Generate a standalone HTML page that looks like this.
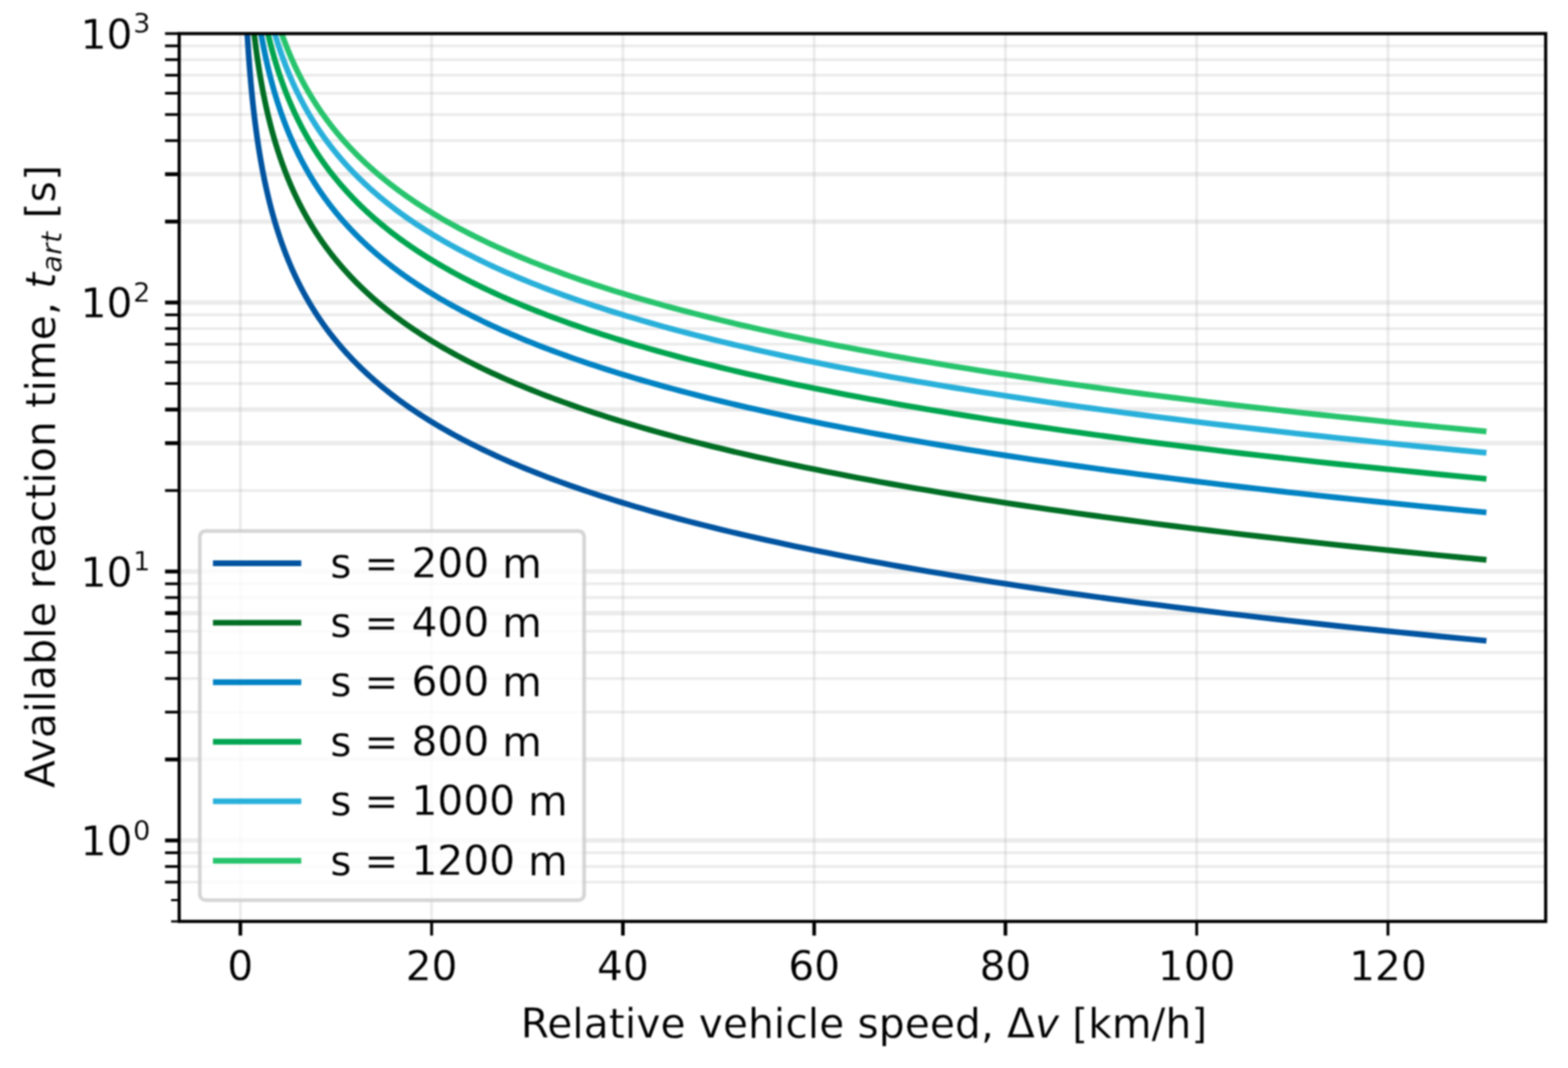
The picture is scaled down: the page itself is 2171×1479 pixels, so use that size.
<!DOCTYPE html>
<html lang="en"><head><meta charset="utf-8"><title>Available reaction time vs. relative vehicle speed</title>
<style>
html,body{margin:0;padding:0;background:#fff;}
body{width:2171px;height:1479px;overflow:hidden;}
svg{display:block;filter:blur(0.85px);}
text{font-family:"DejaVu Sans","Liberation Sans",sans-serif;fill:#000;stroke:#fff;stroke-width:0.3px;stroke-linejoin:round;}
.it{font-style:italic;}
</style></head><body>
<svg width="2171" height="1479" viewBox="0 0 2171 1479">
<rect x="0" y="0" width="2171" height="1479" fill="#fff"/>
<defs><clipPath id="ax"><rect x="248.10" y="46.50" width="1892.00" height="1229.50"/></clipPath></defs>
<g id="grid" clip-path="url(#ax)" stroke="#b0b0b0" stroke-opacity="0.25" stroke-width="3.8" fill="none">
<line x1="332.80" y1="46.50" x2="332.80" y2="1276.00"/>
<line x1="597.62" y1="46.50" x2="597.62" y2="1276.00"/>
<line x1="862.44" y1="46.50" x2="862.44" y2="1276.00"/>
<line x1="1127.26" y1="46.50" x2="1127.26" y2="1276.00"/>
<line x1="1392.08" y1="46.50" x2="1392.08" y2="1276.00"/>
<line x1="1656.90" y1="46.50" x2="1656.90" y2="1276.00"/>
<line x1="1921.72" y1="46.50" x2="1921.72" y2="1276.00"/>
<line x1="248.10" y1="1221.57" x2="2140.10" y2="1221.57"/>
<line x1="248.10" y1="1199.97" x2="2140.10" y2="1199.97"/>
<line x1="248.10" y1="1180.92" x2="2140.10" y2="1180.92"/>
<line x1="248.10" y1="1163.88" x2="2140.10" y2="1163.88" stroke-width="6.2"/>
<line x1="248.10" y1="1051.76" x2="2140.10" y2="1051.76" stroke-width="6.2"/>
<line x1="248.10" y1="986.17" x2="2140.10" y2="986.17"/>
<line x1="248.10" y1="939.64" x2="2140.10" y2="939.64"/>
<line x1="248.10" y1="903.54" x2="2140.10" y2="903.54"/>
<line x1="248.10" y1="874.05" x2="2140.10" y2="874.05"/>
<line x1="248.10" y1="849.11" x2="2140.10" y2="849.11" stroke-width="6.2"/>
<line x1="248.10" y1="827.51" x2="2140.10" y2="827.51"/>
<line x1="248.10" y1="808.46" x2="2140.10" y2="808.46"/>
<line x1="248.10" y1="791.42" x2="2140.10" y2="791.42" stroke-width="6.2"/>
<line x1="248.10" y1="679.30" x2="2140.10" y2="679.30"/>
<line x1="248.10" y1="613.71" x2="2140.10" y2="613.71" stroke-width="6.2"/>
<line x1="248.10" y1="567.18" x2="2140.10" y2="567.18" stroke-width="6.2"/>
<line x1="248.10" y1="531.08" x2="2140.10" y2="531.08"/>
<line x1="248.10" y1="501.59" x2="2140.10" y2="501.59"/>
<line x1="248.10" y1="476.65" x2="2140.10" y2="476.65"/>
<line x1="248.10" y1="455.05" x2="2140.10" y2="455.05"/>
<line x1="248.10" y1="436.00" x2="2140.10" y2="436.00"/>
<line x1="248.10" y1="418.96" x2="2140.10" y2="418.96" stroke-width="6.2"/>
<line x1="248.10" y1="306.84" x2="2140.10" y2="306.84" stroke-width="6.2"/>
<line x1="248.10" y1="241.25" x2="2140.10" y2="241.25" stroke-width="6.2"/>
<line x1="248.10" y1="194.72" x2="2140.10" y2="194.72"/>
<line x1="248.10" y1="158.62" x2="2140.10" y2="158.62"/>
<line x1="248.10" y1="129.13" x2="2140.10" y2="129.13"/>
<line x1="248.10" y1="104.19" x2="2140.10" y2="104.19"/>
<line x1="248.10" y1="82.60" x2="2140.10" y2="82.60"/>
<line x1="248.10" y1="63.54" x2="2140.10" y2="63.54"/>
<line x1="248.10" y1="46.50" x2="2140.10" y2="46.50"/>
</g>
<g id="curves" clip-path="url(#ax)" fill="none" stroke-width="7.9" stroke-linecap="square" stroke-linejoin="round">
<path d="M334.12 -272.82 L334.15 -269.92 L334.17 -267.02 L334.20 -264.12 L334.22 -261.22 L334.25 -258.32 L334.27 -255.42 L334.30 -252.52 L334.33 -249.63 L334.36 -246.73 L334.38 -243.83 L334.41 -240.93 L334.44 -238.03 L334.47 -235.13 L334.50 -232.23 L334.53 -229.33 L334.56 -226.43 L334.60 -223.53 L334.63 -220.63 L334.66 -217.73 L334.70 -214.83 L334.73 -211.93 L334.76 -209.03 L334.80 -206.13 L334.84 -203.23 L334.87 -200.33 L334.91 -197.43 L334.95 -194.53 L334.99 -191.63 L335.03 -188.73 L335.07 -185.84 L335.11 -182.94 L335.15 -180.04 L335.19 -177.14 L335.24 -174.24 L335.28 -171.34 L335.32 -168.44 L335.37 -165.54 L335.42 -162.64 L335.46 -159.74 L335.51 -156.84 L335.56 -153.94 L335.61 -151.04 L335.66 -148.14 L335.71 -145.24 L335.77 -142.34 L335.82 -139.44 L335.87 -136.54 L335.93 -133.64 L335.99 -130.74 L336.04 -127.84 L336.10 -124.94 L336.16 -122.05 L336.22 -119.15 L336.29 -116.25 L336.35 -113.35 L336.41 -110.45 L336.48 -107.55 L336.54 -104.65 L336.61 -101.75 L336.68 -98.85 L336.75 -95.95 L336.82 -93.05 L336.90 -90.15 L336.97 -87.25 L337.05 -84.35 L337.12 -81.45 L337.20 -78.55 L337.28 -75.65 L337.36 -72.75 L337.44 -69.85 L337.53 -66.95 L337.61 -64.05 L337.70 -61.15 L337.79 -58.26 L337.88 -55.36 L337.97 -52.46 L338.06 -49.56 L338.16 -46.66 L338.26 -43.76 L338.36 -40.86 L338.46 -37.96 L338.56 -35.06 L338.66 -32.16 L338.77 -29.26 L338.88 -26.36 L338.99 -23.46 L339.10 -20.56 L339.21 -17.66 L339.33 -14.76 L339.45 -11.86 L339.57 -8.96 L339.69 -6.06 L339.81 -3.16 L339.94 -0.26 L340.07 2.64 L340.20 5.53 L340.33 8.43 L340.47 11.33 L340.61 14.23 L340.75 17.13 L340.89 20.03 L341.04 22.93 L341.19 25.83 L341.34 28.73 L341.50 31.63 L341.65 34.53 L341.81 37.43 L341.98 40.33 L342.14 43.23 L342.31 46.13 L342.48 49.03 L342.66 51.93 L342.84 54.83 L343.02 57.73 L343.20 60.63 L343.39 63.53 L343.58 66.43 L343.78 69.32 L343.98 72.22 L344.18 75.12 L344.38 78.02 L344.59 80.92 L344.81 83.82 L345.02 86.72 L345.25 89.62 L345.47 92.52 L345.70 95.42 L345.93 98.32 L346.17 101.22 L346.41 104.12 L346.66 107.02 L346.91 109.92 L347.17 112.82 L347.42 115.72 L347.69 118.62 L347.96 121.52 L348.23 124.42 L348.51 127.32 L348.80 130.22 L349.09 133.11 L349.38 136.01 L349.68 138.91 L349.99 141.81 L350.30 144.71 L350.61 147.61 L350.93 150.51 L351.26 153.41 L351.60 156.31 L351.94 159.21 L352.28 162.11 L352.64 165.01 L352.99 167.91 L353.36 170.81 L353.73 173.71 L354.11 176.61 L354.49 179.51 L354.89 182.41 L355.29 185.31 L355.69 188.21 L356.11 191.11 L356.53 194.01 L356.96 196.90 L357.40 199.80 L357.84 202.70 L358.29 205.60 L358.75 208.50 L359.22 211.40 L359.70 214.30 L360.19 217.20 L360.68 220.10 L361.19 223.00 L361.70 225.90 L362.22 228.80 L362.76 231.70 L363.30 234.60 L363.85 237.50 L364.41 240.40 L364.98 243.30 L365.57 246.20 L366.16 249.10 L366.76 252.00 L367.38 254.90 L368.00 257.80 L368.64 260.69 L369.29 263.59 L369.95 266.49 L370.62 269.39 L371.30 272.29 L372.00 275.19 L372.71 278.09 L373.43 280.99 L374.16 283.89 L374.91 286.79 L375.67 289.69 L376.45 292.59 L377.24 295.49 L378.04 298.39 L378.86 301.29 L379.69 304.19 L380.54 307.09 L381.40 309.99 L382.28 312.89 L383.18 315.79 L384.09 318.69 L385.02 321.58 L385.96 324.48 L386.92 327.38 L387.90 330.28 L388.90 333.18 L389.91 336.08 L390.95 338.98 L392.00 341.88 L393.07 344.78 L394.16 347.68 L395.27 350.58 L396.40 353.48 L397.55 356.38 L398.72 359.28 L399.91 362.18 L401.13 365.08 L402.36 367.98 L403.62 370.88 L404.90 373.78 L406.21 376.68 L407.53 379.58 L408.88 382.48 L410.26 385.37 L411.66 388.27 L413.09 391.17 L414.54 394.07 L416.02 396.97 L417.52 399.87 L419.06 402.77 L420.62 405.67 L422.21 408.57 L423.82 411.47 L425.47 414.37 L427.14 417.27 L428.85 420.17 L430.59 423.07 L432.36 425.97 L434.16 428.87 L435.99 431.77 L437.86 434.67 L439.76 437.57 L441.69 440.47 L443.66 443.37 L445.67 446.27 L447.71 449.16 L449.79 452.06 L451.90 454.96 L454.06 457.86 L456.25 460.76 L458.48 463.66 L460.76 466.56 L463.07 469.46 L465.43 472.36 L467.83 475.26 L470.27 478.16 L472.75 481.06 L475.28 483.96 L477.86 486.86 L480.49 489.76 L483.16 492.66 L485.88 495.56 L488.65 498.46 L491.46 501.36 L494.33 504.26 L497.26 507.16 L500.23 510.06 L503.26 512.95 L506.34 515.85 L509.48 518.75 L512.68 521.65 L515.93 524.55 L519.24 527.45 L522.61 530.35 L526.05 533.25 L529.54 536.15 L533.10 539.05 L536.72 541.95 L540.41 544.85 L544.17 547.75 L547.99 550.65 L551.88 553.55 L555.84 556.45 L559.88 559.35 L563.99 562.25 L568.17 565.15 L572.42 568.05 L576.76 570.95 L581.17 573.85 L585.66 576.74 L590.24 579.64 L594.89 582.54 L599.63 585.44 L604.46 588.34 L609.37 591.24 L614.37 594.14 L619.47 597.04 L624.65 599.94 L629.93 602.84 L635.31 605.74 L640.78 608.64 L646.35 611.54 L652.02 614.44 L657.79 617.34 L663.67 620.24 L669.65 623.14 L675.75 626.04 L681.95 628.94 L688.26 631.84 L694.69 634.74 L701.24 637.64 L707.90 640.53 L714.69 643.43 L721.60 646.33 L728.63 649.23 L735.79 652.13 L743.08 655.03 L750.50 657.93 L758.05 660.83 L765.74 663.73 L773.57 666.63 L781.55 669.53 L789.66 672.43 L797.92 675.33 L806.34 678.23 L814.90 681.13 L823.62 684.03 L832.50 686.93 L841.54 689.83 L850.74 692.73 L860.11 695.63 L869.64 698.53 L879.35 701.43 L889.24 704.32 L899.30 707.22 L909.55 710.12 L919.98 713.02 L930.60 715.92 L941.41 718.82 L952.42 721.72 L963.63 724.62 L975.04 727.52 L986.66 730.42 L998.48 733.32 L1010.52 736.22 L1022.78 739.12 L1035.26 742.02 L1047.96 744.92 L1060.90 747.82 L1074.07 750.72 L1087.48 753.62 L1101.13 756.52 L1115.02 759.42 L1129.17 762.32 L1143.57 765.22 L1158.24 768.11 L1173.17 771.01 L1188.37 773.91 L1203.84 776.81 L1219.60 779.71 L1235.64 782.61 L1251.97 785.51 L1268.59 788.41 L1285.52 791.31 L1302.75 794.21 L1320.29 797.11 L1338.15 800.01 L1356.34 802.91 L1374.85 805.81 L1393.70 808.71 L1412.88 811.61 L1432.42 814.51 L1452.31 817.41 L1472.56 820.31 L1493.17 823.21 L1514.16 826.11 L1535.53 829.01 L1557.28 831.90 L1579.43 834.80 L1601.98 837.70 L1624.93 840.60 L1648.30 843.50 L1672.09 846.40 L1696.32 849.30 L1720.98 852.20 L1746.09 855.10 L1771.65 858.00 L1797.67 860.90 L1824.17 863.80 L1851.14 866.70 L1878.61 869.60 L1906.56 872.50 L1935.03 875.40 L1964.01 878.30 L1993.51 881.20 L2023.55 884.10 L2054.13 887.00" stroke="#0054A0"/>
<path d="M334.41 -353.05 L334.44 -350.15 L334.47 -347.25 L334.50 -344.35 L334.53 -341.45 L334.56 -338.55 L334.60 -335.65 L334.63 -332.75 L334.66 -329.85 L334.70 -326.95 L334.73 -324.05 L334.76 -321.15 L334.80 -318.25 L334.84 -315.35 L334.87 -312.45 L334.91 -309.55 L334.95 -306.66 L334.99 -303.76 L335.03 -300.86 L335.07 -297.96 L335.11 -295.06 L335.15 -292.16 L335.19 -289.26 L335.24 -286.36 L335.28 -283.46 L335.32 -280.56 L335.37 -277.66 L335.42 -274.76 L335.46 -271.86 L335.51 -268.96 L335.56 -266.06 L335.61 -263.16 L335.66 -260.26 L335.71 -257.36 L335.77 -254.46 L335.82 -251.56 L335.87 -248.66 L335.93 -245.76 L335.99 -242.87 L336.04 -239.97 L336.10 -237.07 L336.16 -234.17 L336.22 -231.27 L336.29 -228.37 L336.35 -225.47 L336.41 -222.57 L336.48 -219.67 L336.54 -216.77 L336.61 -213.87 L336.68 -210.97 L336.75 -208.07 L336.82 -205.17 L336.90 -202.27 L336.97 -199.37 L337.05 -196.47 L337.12 -193.57 L337.20 -190.67 L337.28 -187.77 L337.36 -184.87 L337.44 -181.98 L337.53 -179.08 L337.61 -176.18 L337.70 -173.28 L337.79 -170.38 L337.88 -167.48 L337.97 -164.58 L338.06 -161.68 L338.16 -158.78 L338.26 -155.88 L338.36 -152.98 L338.46 -150.08 L338.56 -147.18 L338.66 -144.28 L338.77 -141.38 L338.88 -138.48 L338.99 -135.58 L339.10 -132.68 L339.21 -129.78 L339.33 -126.88 L339.45 -123.98 L339.57 -121.08 L339.69 -118.19 L339.81 -115.29 L339.94 -112.39 L340.07 -109.49 L340.20 -106.59 L340.33 -103.69 L340.47 -100.79 L340.61 -97.89 L340.75 -94.99 L340.89 -92.09 L341.04 -89.19 L341.19 -86.29 L341.34 -83.39 L341.50 -80.49 L341.65 -77.59 L341.81 -74.69 L341.98 -71.79 L342.14 -68.89 L342.31 -65.99 L342.48 -63.09 L342.66 -60.19 L342.84 -57.29 L343.02 -54.40 L343.20 -51.50 L343.39 -48.60 L343.58 -45.70 L343.78 -42.80 L343.98 -39.90 L344.18 -37.00 L344.38 -34.10 L344.59 -31.20 L344.81 -28.30 L345.02 -25.40 L345.25 -22.50 L345.47 -19.60 L345.70 -16.70 L345.93 -13.80 L346.17 -10.90 L346.41 -8.00 L346.66 -5.10 L346.91 -2.20 L347.17 0.70 L347.42 3.60 L347.69 6.50 L347.96 9.39 L348.23 12.29 L348.51 15.19 L348.80 18.09 L349.09 20.99 L349.38 23.89 L349.68 26.79 L349.99 29.69 L350.30 32.59 L350.61 35.49 L350.93 38.39 L351.26 41.29 L351.60 44.19 L351.94 47.09 L352.28 49.99 L352.64 52.89 L352.99 55.79 L353.36 58.69 L353.73 61.59 L354.11 64.49 L354.49 67.39 L354.89 70.29 L355.29 73.18 L355.69 76.08 L356.11 78.98 L356.53 81.88 L356.96 84.78 L357.40 87.68 L357.84 90.58 L358.29 93.48 L358.75 96.38 L359.22 99.28 L359.70 102.18 L360.19 105.08 L360.68 107.98 L361.19 110.88 L361.70 113.78 L362.22 116.68 L362.76 119.58 L363.30 122.48 L363.85 125.38 L364.41 128.28 L364.98 131.18 L365.57 134.08 L366.16 136.97 L366.76 139.87 L367.38 142.77 L368.00 145.67 L368.64 148.57 L369.29 151.47 L369.95 154.37 L370.62 157.27 L371.30 160.17 L372.00 163.07 L372.71 165.97 L373.43 168.87 L374.16 171.77 L374.91 174.67 L375.67 177.57 L376.45 180.47 L377.24 183.37 L378.04 186.27 L378.86 189.17 L379.69 192.07 L380.54 194.97 L381.40 197.87 L382.28 200.76 L383.18 203.66 L384.09 206.56 L385.02 209.46 L385.96 212.36 L386.92 215.26 L387.90 218.16 L388.90 221.06 L389.91 223.96 L390.95 226.86 L392.00 229.76 L393.07 232.66 L394.16 235.56 L395.27 238.46 L396.40 241.36 L397.55 244.26 L398.72 247.16 L399.91 250.06 L401.13 252.96 L402.36 255.86 L403.62 258.76 L404.90 261.66 L406.21 264.55 L407.53 267.45 L408.88 270.35 L410.26 273.25 L411.66 276.15 L413.09 279.05 L414.54 281.95 L416.02 284.85 L417.52 287.75 L419.06 290.65 L420.62 293.55 L422.21 296.45 L423.82 299.35 L425.47 302.25 L427.14 305.15 L428.85 308.05 L430.59 310.95 L432.36 313.85 L434.16 316.75 L435.99 319.65 L437.86 322.55 L439.76 325.45 L441.69 328.34 L443.66 331.24 L445.67 334.14 L447.71 337.04 L449.79 339.94 L451.90 342.84 L454.06 345.74 L456.25 348.64 L458.48 351.54 L460.76 354.44 L463.07 357.34 L465.43 360.24 L467.83 363.14 L470.27 366.04 L472.75 368.94 L475.28 371.84 L477.86 374.74 L480.49 377.64 L483.16 380.54 L485.88 383.44 L488.65 386.34 L491.46 389.24 L494.33 392.13 L497.26 395.03 L500.23 397.93 L503.26 400.83 L506.34 403.73 L509.48 406.63 L512.68 409.53 L515.93 412.43 L519.24 415.33 L522.61 418.23 L526.05 421.13 L529.54 424.03 L533.10 426.93 L536.72 429.83 L540.41 432.73 L544.17 435.63 L547.99 438.53 L551.88 441.43 L555.84 444.33 L559.88 447.23 L563.99 450.13 L568.17 453.03 L572.42 455.92 L576.76 458.82 L581.17 461.72 L585.66 464.62 L590.24 467.52 L594.89 470.42 L599.63 473.32 L604.46 476.22 L609.37 479.12 L614.37 482.02 L619.47 484.92 L624.65 487.82 L629.93 490.72 L635.31 493.62 L640.78 496.52 L646.35 499.42 L652.02 502.32 L657.79 505.22 L663.67 508.12 L669.65 511.02 L675.75 513.92 L681.95 516.82 L688.26 519.71 L694.69 522.61 L701.24 525.51 L707.90 528.41 L714.69 531.31 L721.60 534.21 L728.63 537.11 L735.79 540.01 L743.08 542.91 L750.50 545.81 L758.05 548.71 L765.74 551.61 L773.57 554.51 L781.55 557.41 L789.66 560.31 L797.92 563.21 L806.34 566.11 L814.90 569.01 L823.62 571.91 L832.50 574.81 L841.54 577.71 L850.74 580.61 L860.11 583.50 L869.64 586.40 L879.35 589.30 L889.24 592.20 L899.30 595.10 L909.55 598.00 L919.98 600.90 L930.60 603.80 L941.41 606.70 L952.42 609.60 L963.63 612.50 L975.04 615.40 L986.66 618.30 L998.48 621.20 L1010.52 624.10 L1022.78 627.00 L1035.26 629.90 L1047.96 632.80 L1060.90 635.70 L1074.07 638.60 L1087.48 641.50 L1101.13 644.40 L1115.02 647.29 L1129.17 650.19 L1143.57 653.09 L1158.24 655.99 L1173.17 658.89 L1188.37 661.79 L1203.84 664.69 L1219.60 667.59 L1235.64 670.49 L1251.97 673.39 L1268.59 676.29 L1285.52 679.19 L1302.75 682.09 L1320.29 684.99 L1338.15 687.89 L1356.34 690.79 L1374.85 693.69 L1393.70 696.59 L1412.88 699.49 L1432.42 702.39 L1452.31 705.29 L1472.56 708.19 L1493.17 711.08 L1514.16 713.98 L1535.53 716.88 L1557.28 719.78 L1579.43 722.68 L1601.98 725.58 L1624.93 728.48 L1648.30 731.38 L1672.09 734.28 L1696.32 737.18 L1720.98 740.08 L1746.09 742.98 L1771.65 745.88 L1797.67 748.78 L1824.17 751.68 L1851.14 754.58 L1878.61 757.48 L1906.56 760.38 L1935.03 763.28 L1964.01 766.18 L1993.51 769.08 L2023.55 771.98 L2054.13 774.87" stroke="#006E24"/>
<path d="M335.24 -351.95 L335.28 -349.05 L335.32 -346.15 L335.37 -343.25 L335.42 -340.35 L335.46 -337.45 L335.51 -334.55 L335.56 -331.65 L335.61 -328.75 L335.66 -325.85 L335.71 -322.95 L335.77 -320.05 L335.82 -317.15 L335.87 -314.25 L335.93 -311.35 L335.99 -308.45 L336.04 -305.55 L336.10 -302.65 L336.16 -299.75 L336.22 -296.85 L336.29 -293.95 L336.35 -291.06 L336.41 -288.16 L336.48 -285.26 L336.54 -282.36 L336.61 -279.46 L336.68 -276.56 L336.75 -273.66 L336.82 -270.76 L336.90 -267.86 L336.97 -264.96 L337.05 -262.06 L337.12 -259.16 L337.20 -256.26 L337.28 -253.36 L337.36 -250.46 L337.44 -247.56 L337.53 -244.66 L337.61 -241.76 L337.70 -238.86 L337.79 -235.96 L337.88 -233.06 L337.97 -230.16 L338.06 -227.27 L338.16 -224.37 L338.26 -221.47 L338.36 -218.57 L338.46 -215.67 L338.56 -212.77 L338.66 -209.87 L338.77 -206.97 L338.88 -204.07 L338.99 -201.17 L339.10 -198.27 L339.21 -195.37 L339.33 -192.47 L339.45 -189.57 L339.57 -186.67 L339.69 -183.77 L339.81 -180.87 L339.94 -177.97 L340.07 -175.07 L340.20 -172.17 L340.33 -169.27 L340.47 -166.37 L340.61 -163.48 L340.75 -160.58 L340.89 -157.68 L341.04 -154.78 L341.19 -151.88 L341.34 -148.98 L341.50 -146.08 L341.65 -143.18 L341.81 -140.28 L341.98 -137.38 L342.14 -134.48 L342.31 -131.58 L342.48 -128.68 L342.66 -125.78 L342.84 -122.88 L343.02 -119.98 L343.20 -117.08 L343.39 -114.18 L343.58 -111.28 L343.78 -108.38 L343.98 -105.48 L344.18 -102.58 L344.38 -99.69 L344.59 -96.79 L344.81 -93.89 L345.02 -90.99 L345.25 -88.09 L345.47 -85.19 L345.70 -82.29 L345.93 -79.39 L346.17 -76.49 L346.41 -73.59 L346.66 -70.69 L346.91 -67.79 L347.17 -64.89 L347.42 -61.99 L347.69 -59.09 L347.96 -56.19 L348.23 -53.29 L348.51 -50.39 L348.80 -47.49 L349.09 -44.59 L349.38 -41.69 L349.68 -38.79 L349.99 -35.90 L350.30 -33.00 L350.61 -30.10 L350.93 -27.20 L351.26 -24.30 L351.60 -21.40 L351.94 -18.50 L352.28 -15.60 L352.64 -12.70 L352.99 -9.80 L353.36 -6.90 L353.73 -4.00 L354.11 -1.10 L354.49 1.80 L354.89 4.70 L355.29 7.60 L355.69 10.50 L356.11 13.40 L356.53 16.30 L356.96 19.20 L357.40 22.10 L357.84 25.00 L358.29 27.89 L358.75 30.79 L359.22 33.69 L359.70 36.59 L360.19 39.49 L360.68 42.39 L361.19 45.29 L361.70 48.19 L362.22 51.09 L362.76 53.99 L363.30 56.89 L363.85 59.79 L364.41 62.69 L364.98 65.59 L365.57 68.49 L366.16 71.39 L366.76 74.29 L367.38 77.19 L368.00 80.09 L368.64 82.99 L369.29 85.89 L369.95 88.79 L370.62 91.68 L371.30 94.58 L372.00 97.48 L372.71 100.38 L373.43 103.28 L374.16 106.18 L374.91 109.08 L375.67 111.98 L376.45 114.88 L377.24 117.78 L378.04 120.68 L378.86 123.58 L379.69 126.48 L380.54 129.38 L381.40 132.28 L382.28 135.18 L383.18 138.08 L384.09 140.98 L385.02 143.88 L385.96 146.78 L386.92 149.68 L387.90 152.58 L388.90 155.47 L389.91 158.37 L390.95 161.27 L392.00 164.17 L393.07 167.07 L394.16 169.97 L395.27 172.87 L396.40 175.77 L397.55 178.67 L398.72 181.57 L399.91 184.47 L401.13 187.37 L402.36 190.27 L403.62 193.17 L404.90 196.07 L406.21 198.97 L407.53 201.87 L408.88 204.77 L410.26 207.67 L411.66 210.57 L413.09 213.47 L414.54 216.37 L416.02 219.26 L417.52 222.16 L419.06 225.06 L420.62 227.96 L422.21 230.86 L423.82 233.76 L425.47 236.66 L427.14 239.56 L428.85 242.46 L430.59 245.36 L432.36 248.26 L434.16 251.16 L435.99 254.06 L437.86 256.96 L439.76 259.86 L441.69 262.76 L443.66 265.66 L445.67 268.56 L447.71 271.46 L449.79 274.36 L451.90 277.26 L454.06 280.16 L456.25 283.05 L458.48 285.95 L460.76 288.85 L463.07 291.75 L465.43 294.65 L467.83 297.55 L470.27 300.45 L472.75 303.35 L475.28 306.25 L477.86 309.15 L480.49 312.05 L483.16 314.95 L485.88 317.85 L488.65 320.75 L491.46 323.65 L494.33 326.55 L497.26 329.45 L500.23 332.35 L503.26 335.25 L506.34 338.15 L509.48 341.05 L512.68 343.95 L515.93 346.84 L519.24 349.74 L522.61 352.64 L526.05 355.54 L529.54 358.44 L533.10 361.34 L536.72 364.24 L540.41 367.14 L544.17 370.04 L547.99 372.94 L551.88 375.84 L555.84 378.74 L559.88 381.64 L563.99 384.54 L568.17 387.44 L572.42 390.34 L576.76 393.24 L581.17 396.14 L585.66 399.04 L590.24 401.94 L594.89 404.84 L599.63 407.74 L604.46 410.63 L609.37 413.53 L614.37 416.43 L619.47 419.33 L624.65 422.23 L629.93 425.13 L635.31 428.03 L640.78 430.93 L646.35 433.83 L652.02 436.73 L657.79 439.63 L663.67 442.53 L669.65 445.43 L675.75 448.33 L681.95 451.23 L688.26 454.13 L694.69 457.03 L701.24 459.93 L707.90 462.83 L714.69 465.73 L721.60 468.63 L728.63 471.53 L735.79 474.42 L743.08 477.32 L750.50 480.22 L758.05 483.12 L765.74 486.02 L773.57 488.92 L781.55 491.82 L789.66 494.72 L797.92 497.62 L806.34 500.52 L814.90 503.42 L823.62 506.32 L832.50 509.22 L841.54 512.12 L850.74 515.02 L860.11 517.92 L869.64 520.82 L879.35 523.72 L889.24 526.62 L899.30 529.52 L909.55 532.42 L919.98 535.32 L930.60 538.21 L941.41 541.11 L952.42 544.01 L963.63 546.91 L975.04 549.81 L986.66 552.71 L998.48 555.61 L1010.52 558.51 L1022.78 561.41 L1035.26 564.31 L1047.96 567.21 L1060.90 570.11 L1074.07 573.01 L1087.48 575.91 L1101.13 578.81 L1115.02 581.71 L1129.17 584.61 L1143.57 587.51 L1158.24 590.41 L1173.17 593.31 L1188.37 596.21 L1203.84 599.11 L1219.60 602.00 L1235.64 604.90 L1251.97 607.80 L1268.59 610.70 L1285.52 613.60 L1302.75 616.50 L1320.29 619.40 L1338.15 622.30 L1356.34 625.20 L1374.85 628.10 L1393.70 631.00 L1412.88 633.90 L1432.42 636.80 L1452.31 639.70 L1472.56 642.60 L1493.17 645.50 L1514.16 648.40 L1535.53 651.30 L1557.28 654.20 L1579.43 657.10 L1601.98 660.00 L1624.93 662.90 L1648.30 665.79 L1672.09 668.69 L1696.32 671.59 L1720.98 674.49 L1746.09 677.39 L1771.65 680.29 L1797.67 683.19 L1824.17 686.09 L1851.14 688.99 L1878.61 691.89 L1906.56 694.79 L1935.03 697.69 L1964.01 700.59 L1993.51 703.49 L2023.55 706.39 L2054.13 709.29" stroke="#0082C3"/>
<path d="M336.04 -352.09 L336.10 -349.19 L336.16 -346.29 L336.22 -343.39 L336.29 -340.49 L336.35 -337.59 L336.41 -334.69 L336.48 -331.79 L336.54 -328.89 L336.61 -325.99 L336.68 -323.09 L336.75 -320.19 L336.82 -317.29 L336.90 -314.39 L336.97 -311.49 L337.05 -308.59 L337.12 -305.69 L337.20 -302.80 L337.28 -299.90 L337.36 -297.00 L337.44 -294.10 L337.53 -291.20 L337.61 -288.30 L337.70 -285.40 L337.79 -282.50 L337.88 -279.60 L337.97 -276.70 L338.06 -273.80 L338.16 -270.90 L338.26 -268.00 L338.36 -265.10 L338.46 -262.20 L338.56 -259.30 L338.66 -256.40 L338.77 -253.50 L338.88 -250.60 L338.99 -247.70 L339.10 -244.80 L339.21 -241.90 L339.33 -239.01 L339.45 -236.11 L339.57 -233.21 L339.69 -230.31 L339.81 -227.41 L339.94 -224.51 L340.07 -221.61 L340.20 -218.71 L340.33 -215.81 L340.47 -212.91 L340.61 -210.01 L340.75 -207.11 L340.89 -204.21 L341.04 -201.31 L341.19 -198.41 L341.34 -195.51 L341.50 -192.61 L341.65 -189.71 L341.81 -186.81 L341.98 -183.91 L342.14 -181.01 L342.31 -178.11 L342.48 -175.22 L342.66 -172.32 L342.84 -169.42 L343.02 -166.52 L343.20 -163.62 L343.39 -160.72 L343.58 -157.82 L343.78 -154.92 L343.98 -152.02 L344.18 -149.12 L344.38 -146.22 L344.59 -143.32 L344.81 -140.42 L345.02 -137.52 L345.25 -134.62 L345.47 -131.72 L345.70 -128.82 L345.93 -125.92 L346.17 -123.02 L346.41 -120.12 L346.66 -117.22 L346.91 -114.32 L347.17 -111.43 L347.42 -108.53 L347.69 -105.63 L347.96 -102.73 L348.23 -99.83 L348.51 -96.93 L348.80 -94.03 L349.09 -91.13 L349.38 -88.23 L349.68 -85.33 L349.99 -82.43 L350.30 -79.53 L350.61 -76.63 L350.93 -73.73 L351.26 -70.83 L351.60 -67.93 L351.94 -65.03 L352.28 -62.13 L352.64 -59.23 L352.99 -56.33 L353.36 -53.43 L353.73 -50.53 L354.11 -47.64 L354.49 -44.74 L354.89 -41.84 L355.29 -38.94 L355.69 -36.04 L356.11 -33.14 L356.53 -30.24 L356.96 -27.34 L357.40 -24.44 L357.84 -21.54 L358.29 -18.64 L358.75 -15.74 L359.22 -12.84 L359.70 -9.94 L360.19 -7.04 L360.68 -4.14 L361.19 -1.24 L361.70 1.66 L362.22 4.56 L362.76 7.46 L363.30 10.36 L363.85 13.26 L364.41 16.15 L364.98 19.05 L365.57 21.95 L366.16 24.85 L366.76 27.75 L367.38 30.65 L368.00 33.55 L368.64 36.45 L369.29 39.35 L369.95 42.25 L370.62 45.15 L371.30 48.05 L372.00 50.95 L372.71 53.85 L373.43 56.75 L374.16 59.65 L374.91 62.55 L375.67 65.45 L376.45 68.35 L377.24 71.25 L378.04 74.15 L378.86 77.05 L379.69 79.94 L380.54 82.84 L381.40 85.74 L382.28 88.64 L383.18 91.54 L384.09 94.44 L385.02 97.34 L385.96 100.24 L386.92 103.14 L387.90 106.04 L388.90 108.94 L389.91 111.84 L390.95 114.74 L392.00 117.64 L393.07 120.54 L394.16 123.44 L395.27 126.34 L396.40 129.24 L397.55 132.14 L398.72 135.04 L399.91 137.94 L401.13 140.84 L402.36 143.73 L403.62 146.63 L404.90 149.53 L406.21 152.43 L407.53 155.33 L408.88 158.23 L410.26 161.13 L411.66 164.03 L413.09 166.93 L414.54 169.83 L416.02 172.73 L417.52 175.63 L419.06 178.53 L420.62 181.43 L422.21 184.33 L423.82 187.23 L425.47 190.13 L427.14 193.03 L428.85 195.93 L430.59 198.83 L432.36 201.73 L434.16 204.63 L435.99 207.52 L437.86 210.42 L439.76 213.32 L441.69 216.22 L443.66 219.12 L445.67 222.02 L447.71 224.92 L449.79 227.82 L451.90 230.72 L454.06 233.62 L456.25 236.52 L458.48 239.42 L460.76 242.32 L463.07 245.22 L465.43 248.12 L467.83 251.02 L470.27 253.92 L472.75 256.82 L475.28 259.72 L477.86 262.62 L480.49 265.52 L483.16 268.42 L485.88 271.31 L488.65 274.21 L491.46 277.11 L494.33 280.01 L497.26 282.91 L500.23 285.81 L503.26 288.71 L506.34 291.61 L509.48 294.51 L512.68 297.41 L515.93 300.31 L519.24 303.21 L522.61 306.11 L526.05 309.01 L529.54 311.91 L533.10 314.81 L536.72 317.71 L540.41 320.61 L544.17 323.51 L547.99 326.41 L551.88 329.31 L555.84 332.21 L559.88 335.10 L563.99 338.00 L568.17 340.90 L572.42 343.80 L576.76 346.70 L581.17 349.60 L585.66 352.50 L590.24 355.40 L594.89 358.30 L599.63 361.20 L604.46 364.10 L609.37 367.00 L614.37 369.90 L619.47 372.80 L624.65 375.70 L629.93 378.60 L635.31 381.50 L640.78 384.40 L646.35 387.30 L652.02 390.20 L657.79 393.10 L663.67 396.00 L669.65 398.89 L675.75 401.79 L681.95 404.69 L688.26 407.59 L694.69 410.49 L701.24 413.39 L707.90 416.29 L714.69 419.19 L721.60 422.09 L728.63 424.99 L735.79 427.89 L743.08 430.79 L750.50 433.69 L758.05 436.59 L765.74 439.49 L773.57 442.39 L781.55 445.29 L789.66 448.19 L797.92 451.09 L806.34 453.99 L814.90 456.89 L823.62 459.79 L832.50 462.68 L841.54 465.58 L850.74 468.48 L860.11 471.38 L869.64 474.28 L879.35 477.18 L889.24 480.08 L899.30 482.98 L909.55 485.88 L919.98 488.78 L930.60 491.68 L941.41 494.58 L952.42 497.48 L963.63 500.38 L975.04 503.28 L986.66 506.18 L998.48 509.08 L1010.52 511.98 L1022.78 514.88 L1035.26 517.78 L1047.96 520.68 L1060.90 523.58 L1074.07 526.47 L1087.48 529.37 L1101.13 532.27 L1115.02 535.17 L1129.17 538.07 L1143.57 540.97 L1158.24 543.87 L1173.17 546.77 L1188.37 549.67 L1203.84 552.57 L1219.60 555.47 L1235.64 558.37 L1251.97 561.27 L1268.59 564.17 L1285.52 567.07 L1302.75 569.97 L1320.29 572.87 L1338.15 575.77 L1356.34 578.67 L1374.85 581.57 L1393.70 584.47 L1412.88 587.37 L1432.42 590.26 L1452.31 593.16 L1472.56 596.06 L1493.17 598.96 L1514.16 601.86 L1535.53 604.76 L1557.28 607.66 L1579.43 610.56 L1601.98 613.46 L1624.93 616.36 L1648.30 619.26 L1672.09 622.16 L1696.32 625.06 L1720.98 627.96 L1746.09 630.86 L1771.65 633.76 L1797.67 636.66 L1824.17 639.56 L1851.14 642.46 L1878.61 645.36 L1906.56 648.26 L1935.03 651.16 L1964.01 654.05 L1993.51 656.95 L2023.55 659.85 L2054.13 662.75" stroke="#00A550"/>
<path d="M336.82 -353.39 L336.90 -350.49 L336.97 -347.59 L337.05 -344.69 L337.12 -341.79 L337.20 -338.89 L337.28 -335.99 L337.36 -333.09 L337.44 -330.19 L337.53 -327.29 L337.61 -324.39 L337.70 -321.49 L337.79 -318.59 L337.88 -315.69 L337.97 -312.79 L338.06 -309.89 L338.16 -307.00 L338.26 -304.10 L338.36 -301.20 L338.46 -298.30 L338.56 -295.40 L338.66 -292.50 L338.77 -289.60 L338.88 -286.70 L338.99 -283.80 L339.10 -280.90 L339.21 -278.00 L339.33 -275.10 L339.45 -272.20 L339.57 -269.30 L339.69 -266.40 L339.81 -263.50 L339.94 -260.60 L340.07 -257.70 L340.20 -254.80 L340.33 -251.90 L340.47 -249.00 L340.61 -246.10 L340.75 -243.21 L340.89 -240.31 L341.04 -237.41 L341.19 -234.51 L341.34 -231.61 L341.50 -228.71 L341.65 -225.81 L341.81 -222.91 L341.98 -220.01 L342.14 -217.11 L342.31 -214.21 L342.48 -211.31 L342.66 -208.41 L342.84 -205.51 L343.02 -202.61 L343.20 -199.71 L343.39 -196.81 L343.58 -193.91 L343.78 -191.01 L343.98 -188.11 L344.18 -185.21 L344.38 -182.31 L344.59 -179.42 L344.81 -176.52 L345.02 -173.62 L345.25 -170.72 L345.47 -167.82 L345.70 -164.92 L345.93 -162.02 L346.17 -159.12 L346.41 -156.22 L346.66 -153.32 L346.91 -150.42 L347.17 -147.52 L347.42 -144.62 L347.69 -141.72 L347.96 -138.82 L348.23 -135.92 L348.51 -133.02 L348.80 -130.12 L349.09 -127.22 L349.38 -124.32 L349.68 -121.42 L349.99 -118.52 L350.30 -115.63 L350.61 -112.73 L350.93 -109.83 L351.26 -106.93 L351.60 -104.03 L351.94 -101.13 L352.28 -98.23 L352.64 -95.33 L352.99 -92.43 L353.36 -89.53 L353.73 -86.63 L354.11 -83.73 L354.49 -80.83 L354.89 -77.93 L355.29 -75.03 L355.69 -72.13 L356.11 -69.23 L356.53 -66.33 L356.96 -63.43 L357.40 -60.53 L357.84 -57.63 L358.29 -54.73 L358.75 -51.84 L359.22 -48.94 L359.70 -46.04 L360.19 -43.14 L360.68 -40.24 L361.19 -37.34 L361.70 -34.44 L362.22 -31.54 L362.76 -28.64 L363.30 -25.74 L363.85 -22.84 L364.41 -19.94 L364.98 -17.04 L365.57 -14.14 L366.16 -11.24 L366.76 -8.34 L367.38 -5.44 L368.00 -2.54 L368.64 0.36 L369.29 3.26 L369.95 6.16 L370.62 9.06 L371.30 11.95 L372.00 14.85 L372.71 17.75 L373.43 20.65 L374.16 23.55 L374.91 26.45 L375.67 29.35 L376.45 32.25 L377.24 35.15 L378.04 38.05 L378.86 40.95 L379.69 43.85 L380.54 46.75 L381.40 49.65 L382.28 52.55 L383.18 55.45 L384.09 58.35 L385.02 61.25 L385.96 64.15 L386.92 67.05 L387.90 69.95 L388.90 72.85 L389.91 75.74 L390.95 78.64 L392.00 81.54 L393.07 84.44 L394.16 87.34 L395.27 90.24 L396.40 93.14 L397.55 96.04 L398.72 98.94 L399.91 101.84 L401.13 104.74 L402.36 107.64 L403.62 110.54 L404.90 113.44 L406.21 116.34 L407.53 119.24 L408.88 122.14 L410.26 125.04 L411.66 127.94 L413.09 130.84 L414.54 133.74 L416.02 136.64 L417.52 139.53 L419.06 142.43 L420.62 145.33 L422.21 148.23 L423.82 151.13 L425.47 154.03 L427.14 156.93 L428.85 159.83 L430.59 162.73 L432.36 165.63 L434.16 168.53 L435.99 171.43 L437.86 174.33 L439.76 177.23 L441.69 180.13 L443.66 183.03 L445.67 185.93 L447.71 188.83 L449.79 191.73 L451.90 194.63 L454.06 197.53 L456.25 200.43 L458.48 203.32 L460.76 206.22 L463.07 209.12 L465.43 212.02 L467.83 214.92 L470.27 217.82 L472.75 220.72 L475.28 223.62 L477.86 226.52 L480.49 229.42 L483.16 232.32 L485.88 235.22 L488.65 238.12 L491.46 241.02 L494.33 243.92 L497.26 246.82 L500.23 249.72 L503.26 252.62 L506.34 255.52 L509.48 258.42 L512.68 261.32 L515.93 264.22 L519.24 267.11 L522.61 270.01 L526.05 272.91 L529.54 275.81 L533.10 278.71 L536.72 281.61 L540.41 284.51 L544.17 287.41 L547.99 290.31 L551.88 293.21 L555.84 296.11 L559.88 299.01 L563.99 301.91 L568.17 304.81 L572.42 307.71 L576.76 310.61 L581.17 313.51 L585.66 316.41 L590.24 319.31 L594.89 322.21 L599.63 325.11 L604.46 328.01 L609.37 330.90 L614.37 333.80 L619.47 336.70 L624.65 339.60 L629.93 342.50 L635.31 345.40 L640.78 348.30 L646.35 351.20 L652.02 354.10 L657.79 357.00 L663.67 359.90 L669.65 362.80 L675.75 365.70 L681.95 368.60 L688.26 371.50 L694.69 374.40 L701.24 377.30 L707.90 380.20 L714.69 383.10 L721.60 386.00 L728.63 388.90 L735.79 391.80 L743.08 394.69 L750.50 397.59 L758.05 400.49 L765.74 403.39 L773.57 406.29 L781.55 409.19 L789.66 412.09 L797.92 414.99 L806.34 417.89 L814.90 420.79 L823.62 423.69 L832.50 426.59 L841.54 429.49 L850.74 432.39 L860.11 435.29 L869.64 438.19 L879.35 441.09 L889.24 443.99 L899.30 446.89 L909.55 449.79 L919.98 452.69 L930.60 455.59 L941.41 458.48 L952.42 461.38 L963.63 464.28 L975.04 467.18 L986.66 470.08 L998.48 472.98 L1010.52 475.88 L1022.78 478.78 L1035.26 481.68 L1047.96 484.58 L1060.90 487.48 L1074.07 490.38 L1087.48 493.28 L1101.13 496.18 L1115.02 499.08 L1129.17 501.98 L1143.57 504.88 L1158.24 507.78 L1173.17 510.68 L1188.37 513.58 L1203.84 516.48 L1219.60 519.37 L1235.64 522.27 L1251.97 525.17 L1268.59 528.07 L1285.52 530.97 L1302.75 533.87 L1320.29 536.77 L1338.15 539.67 L1356.34 542.57 L1374.85 545.47 L1393.70 548.37 L1412.88 551.27 L1432.42 554.17 L1452.31 557.07 L1472.56 559.97 L1493.17 562.87 L1514.16 565.77 L1535.53 568.67 L1557.28 571.57 L1579.43 574.47 L1601.98 577.37 L1624.93 580.27 L1648.30 583.16 L1672.09 586.06 L1696.32 588.96 L1720.98 591.86 L1746.09 594.76 L1771.65 597.66 L1797.67 600.56 L1824.17 603.46 L1851.14 606.36 L1878.61 609.26 L1906.56 612.16 L1935.03 615.06 L1964.01 617.96 L1993.51 620.86 L2023.55 623.76 L2054.13 626.66" stroke="#29B0DA"/>
<path d="M337.70 -350.98 L337.79 -348.09 L337.88 -345.19 L337.97 -342.29 L338.06 -339.39 L338.16 -336.49 L338.26 -333.59 L338.36 -330.69 L338.46 -327.79 L338.56 -324.89 L338.66 -321.99 L338.77 -319.09 L338.88 -316.19 L338.99 -313.29 L339.10 -310.39 L339.21 -307.49 L339.33 -304.59 L339.45 -301.69 L339.57 -298.79 L339.69 -295.89 L339.81 -292.99 L339.94 -290.09 L340.07 -287.19 L340.20 -284.30 L340.33 -281.40 L340.47 -278.50 L340.61 -275.60 L340.75 -272.70 L340.89 -269.80 L341.04 -266.90 L341.19 -264.00 L341.34 -261.10 L341.50 -258.20 L341.65 -255.30 L341.81 -252.40 L341.98 -249.50 L342.14 -246.60 L342.31 -243.70 L342.48 -240.80 L342.66 -237.90 L342.84 -235.00 L343.02 -232.10 L343.20 -229.20 L343.39 -226.30 L343.58 -223.40 L343.78 -220.51 L343.98 -217.61 L344.18 -214.71 L344.38 -211.81 L344.59 -208.91 L344.81 -206.01 L345.02 -203.11 L345.25 -200.21 L345.47 -197.31 L345.70 -194.41 L345.93 -191.51 L346.17 -188.61 L346.41 -185.71 L346.66 -182.81 L346.91 -179.91 L347.17 -177.01 L347.42 -174.11 L347.69 -171.21 L347.96 -168.31 L348.23 -165.41 L348.51 -162.51 L348.80 -159.61 L349.09 -156.72 L349.38 -153.82 L349.68 -150.92 L349.99 -148.02 L350.30 -145.12 L350.61 -142.22 L350.93 -139.32 L351.26 -136.42 L351.60 -133.52 L351.94 -130.62 L352.28 -127.72 L352.64 -124.82 L352.99 -121.92 L353.36 -119.02 L353.73 -116.12 L354.11 -113.22 L354.49 -110.32 L354.89 -107.42 L355.29 -104.52 L355.69 -101.62 L356.11 -98.72 L356.53 -95.82 L356.96 -92.93 L357.40 -90.03 L357.84 -87.13 L358.29 -84.23 L358.75 -81.33 L359.22 -78.43 L359.70 -75.53 L360.19 -72.63 L360.68 -69.73 L361.19 -66.83 L361.70 -63.93 L362.22 -61.03 L362.76 -58.13 L363.30 -55.23 L363.85 -52.33 L364.41 -49.43 L364.98 -46.53 L365.57 -43.63 L366.16 -40.73 L366.76 -37.83 L367.38 -34.93 L368.00 -32.03 L368.64 -29.14 L369.29 -26.24 L369.95 -23.34 L370.62 -20.44 L371.30 -17.54 L372.00 -14.64 L372.71 -11.74 L373.43 -8.84 L374.16 -5.94 L374.91 -3.04 L375.67 -0.14 L376.45 2.76 L377.24 5.66 L378.04 8.56 L378.86 11.46 L379.69 14.36 L380.54 17.26 L381.40 20.16 L382.28 23.06 L383.18 25.96 L384.09 28.86 L385.02 31.76 L385.96 34.65 L386.92 37.55 L387.90 40.45 L388.90 43.35 L389.91 46.25 L390.95 49.15 L392.00 52.05 L393.07 54.95 L394.16 57.85 L395.27 60.75 L396.40 63.65 L397.55 66.55 L398.72 69.45 L399.91 72.35 L401.13 75.25 L402.36 78.15 L403.62 81.05 L404.90 83.95 L406.21 86.85 L407.53 89.75 L408.88 92.65 L410.26 95.55 L411.66 98.44 L413.09 101.34 L414.54 104.24 L416.02 107.14 L417.52 110.04 L419.06 112.94 L420.62 115.84 L422.21 118.74 L423.82 121.64 L425.47 124.54 L427.14 127.44 L428.85 130.34 L430.59 133.24 L432.36 136.14 L434.16 139.04 L435.99 141.94 L437.86 144.84 L439.76 147.74 L441.69 150.64 L443.66 153.54 L445.67 156.44 L447.71 159.34 L449.79 162.23 L451.90 165.13 L454.06 168.03 L456.25 170.93 L458.48 173.83 L460.76 176.73 L463.07 179.63 L465.43 182.53 L467.83 185.43 L470.27 188.33 L472.75 191.23 L475.28 194.13 L477.86 197.03 L480.49 199.93 L483.16 202.83 L485.88 205.73 L488.65 208.63 L491.46 211.53 L494.33 214.43 L497.26 217.33 L500.23 220.23 L503.26 223.13 L506.34 226.02 L509.48 228.92 L512.68 231.82 L515.93 234.72 L519.24 237.62 L522.61 240.52 L526.05 243.42 L529.54 246.32 L533.10 249.22 L536.72 252.12 L540.41 255.02 L544.17 257.92 L547.99 260.82 L551.88 263.72 L555.84 266.62 L559.88 269.52 L563.99 272.42 L568.17 275.32 L572.42 278.22 L576.76 281.12 L581.17 284.02 L585.66 286.92 L590.24 289.81 L594.89 292.71 L599.63 295.61 L604.46 298.51 L609.37 301.41 L614.37 304.31 L619.47 307.21 L624.65 310.11 L629.93 313.01 L635.31 315.91 L640.78 318.81 L646.35 321.71 L652.02 324.61 L657.79 327.51 L663.67 330.41 L669.65 333.31 L675.75 336.21 L681.95 339.11 L688.26 342.01 L694.69 344.91 L701.24 347.81 L707.90 350.71 L714.69 353.60 L721.60 356.50 L728.63 359.40 L735.79 362.30 L743.08 365.20 L750.50 368.10 L758.05 371.00 L765.74 373.90 L773.57 376.80 L781.55 379.70 L789.66 382.60 L797.92 385.50 L806.34 388.40 L814.90 391.30 L823.62 394.20 L832.50 397.10 L841.54 400.00 L850.74 402.90 L860.11 405.80 L869.64 408.70 L879.35 411.60 L889.24 414.50 L899.30 417.39 L909.55 420.29 L919.98 423.19 L930.60 426.09 L941.41 428.99 L952.42 431.89 L963.63 434.79 L975.04 437.69 L986.66 440.59 L998.48 443.49 L1010.52 446.39 L1022.78 449.29 L1035.26 452.19 L1047.96 455.09 L1060.90 457.99 L1074.07 460.89 L1087.48 463.79 L1101.13 466.69 L1115.02 469.59 L1129.17 472.49 L1143.57 475.39 L1158.24 478.29 L1173.17 481.18 L1188.37 484.08 L1203.84 486.98 L1219.60 489.88 L1235.64 492.78 L1251.97 495.68 L1268.59 498.58 L1285.52 501.48 L1302.75 504.38 L1320.29 507.28 L1338.15 510.18 L1356.34 513.08 L1374.85 515.98 L1393.70 518.88 L1412.88 521.78 L1432.42 524.68 L1452.31 527.58 L1472.56 530.48 L1493.17 533.38 L1514.16 536.28 L1535.53 539.18 L1557.28 542.07 L1579.43 544.97 L1601.98 547.87 L1624.93 550.77 L1648.30 553.67 L1672.09 556.57 L1696.32 559.47 L1720.98 562.37 L1746.09 565.27 L1771.65 568.17 L1797.67 571.07 L1824.17 573.97 L1851.14 576.87 L1878.61 579.77 L1906.56 582.67 L1935.03 585.57 L1964.01 588.47 L1993.51 591.37 L2023.55 594.27 L2054.13 597.17" stroke="#27C46D"/>
</g>
<g id="ticks" stroke="#000" fill="none">
<line x1="332.80" y1="1276.00" x2="332.80" y2="1295.60" stroke-width="5"/>
<line x1="597.62" y1="1276.00" x2="597.62" y2="1295.60" stroke-width="4"/>
<line x1="862.44" y1="1276.00" x2="862.44" y2="1295.60" stroke-width="5"/>
<line x1="1127.26" y1="1276.00" x2="1127.26" y2="1295.60" stroke-width="5"/>
<line x1="1392.08" y1="1276.00" x2="1392.08" y2="1295.60" stroke-width="5"/>
<line x1="1656.90" y1="1276.00" x2="1656.90" y2="1295.60" stroke-width="4"/>
<line x1="1921.72" y1="1276.00" x2="1921.72" y2="1295.60" stroke-width="4"/>
<line x1="228.50" y1="1221.57" x2="248.10" y2="1221.57" stroke-width="3.8"/>
<line x1="228.50" y1="1199.97" x2="248.10" y2="1199.97" stroke-width="3.8"/>
<line x1="228.50" y1="1180.92" x2="248.10" y2="1180.92" stroke-width="3.8"/>
<line x1="228.50" y1="1163.88" x2="248.10" y2="1163.88" stroke-width="5.4"/>
<line x1="228.50" y1="1051.76" x2="248.10" y2="1051.76" stroke-width="5.4"/>
<line x1="228.50" y1="986.17" x2="248.10" y2="986.17" stroke-width="3.8"/>
<line x1="228.50" y1="939.64" x2="248.10" y2="939.64" stroke-width="3.8"/>
<line x1="228.50" y1="903.54" x2="248.10" y2="903.54" stroke-width="3.8"/>
<line x1="228.50" y1="874.05" x2="248.10" y2="874.05" stroke-width="3.8"/>
<line x1="228.50" y1="849.11" x2="248.10" y2="849.11" stroke-width="5.4"/>
<line x1="228.50" y1="827.51" x2="248.10" y2="827.51" stroke-width="3.8"/>
<line x1="228.50" y1="808.46" x2="248.10" y2="808.46" stroke-width="3.8"/>
<line x1="228.50" y1="791.42" x2="248.10" y2="791.42" stroke-width="5.4"/>
<line x1="228.50" y1="679.30" x2="248.10" y2="679.30" stroke-width="3.8"/>
<line x1="228.50" y1="613.71" x2="248.10" y2="613.71" stroke-width="5.4"/>
<line x1="228.50" y1="567.18" x2="248.10" y2="567.18" stroke-width="5.4"/>
<line x1="228.50" y1="531.08" x2="248.10" y2="531.08" stroke-width="3.8"/>
<line x1="228.50" y1="501.59" x2="248.10" y2="501.59" stroke-width="3.8"/>
<line x1="228.50" y1="476.65" x2="248.10" y2="476.65" stroke-width="3.8"/>
<line x1="228.50" y1="455.05" x2="248.10" y2="455.05" stroke-width="3.8"/>
<line x1="228.50" y1="436.00" x2="248.10" y2="436.00" stroke-width="3.8"/>
<line x1="228.50" y1="418.96" x2="248.10" y2="418.96" stroke-width="5.4"/>
<line x1="228.50" y1="306.84" x2="248.10" y2="306.84" stroke-width="5.4"/>
<line x1="228.50" y1="241.25" x2="248.10" y2="241.25" stroke-width="5.4"/>
<line x1="228.50" y1="194.72" x2="248.10" y2="194.72" stroke-width="3.8"/>
<line x1="228.50" y1="158.62" x2="248.10" y2="158.62" stroke-width="3.8"/>
<line x1="228.50" y1="129.13" x2="248.10" y2="129.13" stroke-width="3.8"/>
<line x1="228.50" y1="104.19" x2="248.10" y2="104.19" stroke-width="3.8"/>
<line x1="228.50" y1="82.60" x2="248.10" y2="82.60" stroke-width="3.8"/>
<line x1="228.50" y1="63.54" x2="248.10" y2="63.54" stroke-width="3.8"/>
<line x1="228.50" y1="46.50" x2="248.10" y2="46.50" stroke-width="3.8"/>
<line x1="236.90" y1="1276.00" x2="248.10" y2="1276.00" stroke-width="3"/>
<line x1="236.90" y1="1246.51" x2="248.10" y2="1246.51" stroke-width="3"/>
</g>
<rect id="spines" x="248.10" y="46.50" width="1892.00" height="1229.50" fill="none" stroke="#000" stroke-width="4.4" stroke-linejoin="miter"/>
<g id="xticklabels" font-size="56.4" text-anchor="middle">
<text x="332.80" y="1357.50">0</text>
<text x="597.62" y="1357.50">20</text>
<text x="862.44" y="1357.50">40</text>
<text x="1127.26" y="1357.50">60</text>
<text x="1392.08" y="1357.50">80</text>
<text x="1656.90" y="1357.50">100</text>
<text x="1921.72" y="1357.50">120</text>
</g>
<g id="yticklabels" font-size="56.4" text-anchor="end">
<text x="208.40" y="1185.38">10<tspan font-size="37.788" dx="1.00" dy="-22.60">0</tspan></text>
<text x="208.40" y="812.92">10<tspan font-size="37.788" dx="1.00" dy="-22.60">1</tspan></text>
<text x="208.40" y="440.46">10<tspan font-size="37.788" dx="1.00" dy="-22.60">2</tspan></text>
<text x="208.40" y="68.00">10<tspan font-size="37.788" dx="1.00" dy="-22.60">3</tspan></text>
</g>
<text id="xlabel" x="1196.30" y="1436.50" font-size="56.4" text-anchor="middle" letter-spacing="0.13">Relative vehicle speed, Δ<tspan class="it">v</tspan> [km/h]</text>
<text id="ylabel" transform="translate(76.00 659.80) rotate(-90)" font-size="56.4" text-anchor="middle" letter-spacing="0.28">Available reaction time, <tspan class="it">t</tspan><tspan class="it" font-size="39.48" dy="9.00">art</tspan><tspan dy="-9.00"> [s]</tspan></text>
<g id="legend">
<rect x="276.70" y="735.30" width="532.10" height="511.30" rx="8" ry="8" fill="#fff" fill-opacity="0.8" stroke="#ccc" stroke-opacity="0.8" stroke-width="5.2"/>
<line x1="298.80" y1="780.00" x2="413.20" y2="780.00" stroke="#0054A0" stroke-width="7.9" stroke-linecap="square"/>
<text x="457.20" y="799.50" font-size="56.4">s = 200 m</text>
<line x1="298.80" y1="862.40" x2="413.20" y2="862.40" stroke="#006E24" stroke-width="7.9" stroke-linecap="square"/>
<text x="457.20" y="881.90" font-size="56.4">s = 400 m</text>
<line x1="298.80" y1="944.80" x2="413.20" y2="944.80" stroke="#0082C3" stroke-width="7.9" stroke-linecap="square"/>
<text x="457.20" y="964.30" font-size="56.4">s = 600 m</text>
<line x1="298.80" y1="1027.20" x2="413.20" y2="1027.20" stroke="#00A550" stroke-width="7.9" stroke-linecap="square"/>
<text x="457.20" y="1046.70" font-size="56.4">s = 800 m</text>
<line x1="298.80" y1="1109.60" x2="413.20" y2="1109.60" stroke="#29B0DA" stroke-width="7.9" stroke-linecap="square"/>
<text x="457.20" y="1129.10" font-size="56.4">s = 1000 m</text>
<line x1="298.80" y1="1192.00" x2="413.20" y2="1192.00" stroke="#27C46D" stroke-width="7.9" stroke-linecap="square"/>
<text x="457.20" y="1211.50" font-size="56.4">s = 1200 m</text>
</g>
</svg>
</body></html>
